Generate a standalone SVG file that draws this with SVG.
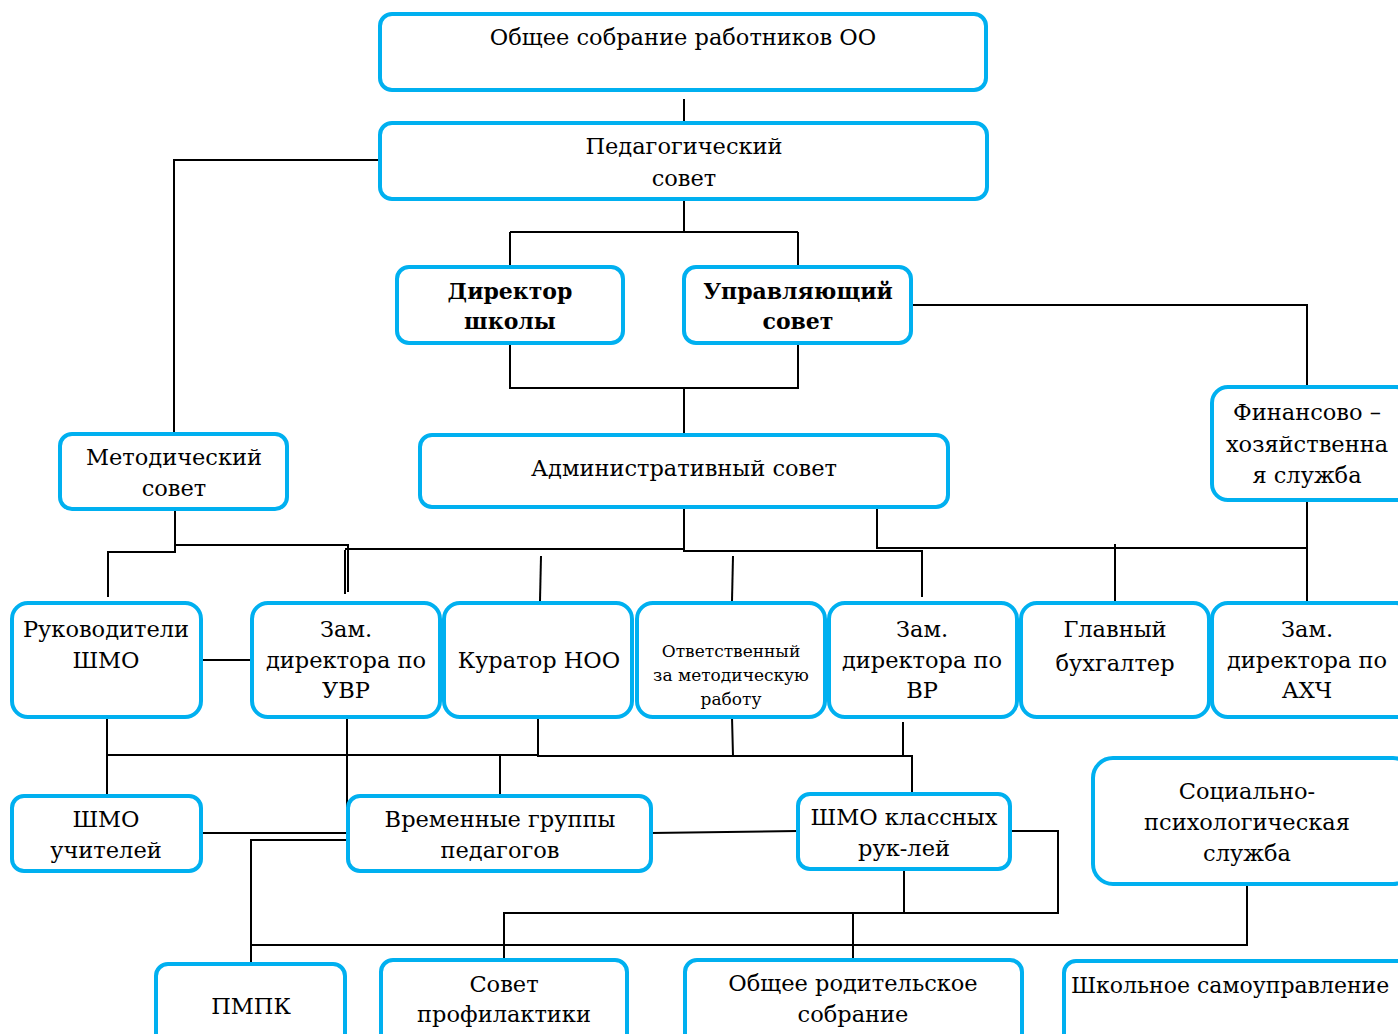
<svg xmlns="http://www.w3.org/2000/svg" width="1398" height="1034" viewBox="0 0 1398 1034">
<style>
.box{fill:#fff;stroke:#00B0F0;stroke-width:4}
.t{font-family:"DejaVu Serif","Liberation Serif",serif;font-size:22.5px;fill:#000;text-anchor:middle}
.b{font-weight:bold;font-size:22px}
.s{font-size:17px}
.c{fill:none;stroke:#000;stroke-width:2}
</style>
<rect width="1398" height="1034" fill="#fff"/>
<g id="connectors" class="c">
<path d="M684 99 L684 121"/>
<path d="M380 160 H174 V433"/>
<path d="M684 199 V232 M510 232 H798 M510 232 V267 M798 232 V267"/>
<path d="M911 305 H1307 V387"/>
<path d="M510 343 V388 H798 V343 M684 388 V435"/>
<path d="M175 509 V552 H108 V597"/>
<path d="M175 545 H348 V592 M345 550 V594"/>
<path d="M345 549 H684 M684 504 V551 H922 V597"/>
<path d="M877 503 V548 H1307"/>
<path d="M1307 500 V601"/>
<path d="M1115 544 V603"/>
<path d="M541 556 L540 601"/>
<path d="M733 556 L732 601"/>
<path d="M201 660 H252"/>
<path d="M107 717 V796"/>
<path d="M107 755 H538 M538 717 V756 H912 V794 M903 722 V757 M732 717 L733 756"/>
<path d="M500 756 V796"/>
<path d="M347 717 V840 H251 V964"/>
<path d="M201 833 H348"/>
<path d="M651 833 L798 831"/>
<path d="M1010 831 H1058 V913 H504 V960 M904 869 V913"/>
<path d="M853 913 V960"/>
<path d="M251 945 H1247 V884"/>
</g>
<g id="n1"><rect class="box" x="380" y="14" width="606" height="76" rx="12"/><text class="t" x="683" y="45">Общее собрание работников ОО</text></g>
<g id="n2"><rect class="box" x="380" y="123" width="607" height="76" rx="12"/><text class="t" x="684" y="154">Педагогический</text><text class="t" x="684" y="186">совет</text></g>
<g id="n3"><rect class="box" x="397" y="267" width="226" height="76" rx="12"/><text class="t b" x="510" y="299">Директор</text><text class="t b" x="510" y="329">школы</text></g>
<g id="n4"><rect class="box" x="684" y="267" width="227" height="76" rx="12"/><text class="t b" x="798" y="299">Управляющий</text><text class="t b" x="798" y="329">совет</text></g>
<g id="n5"><rect class="box" x="60" y="434" width="227" height="75" rx="12"/><text class="t" x="174" y="465">Методический</text><text class="t" x="174" y="496">совет</text></g>
<g id="n6"><rect class="box" x="420" y="435" width="528" height="72" rx="12"/><text class="t" x="684" y="476">Административный совет</text></g>
<g id="n7"><rect class="box" x="1212" y="387" width="200" height="113" rx="16"/><text class="t" x="1307" y="420">Финансово –</text><text class="t" x="1307" y="452">хозяйственна</text><text class="t" x="1307" y="483">я служба</text></g>
<g id="n8"><rect class="box" x="12" y="603" width="189" height="114" rx="16"/><text class="t" x="106" y="637">Руководители</text><text class="t" x="106" y="668">ШМО</text></g>
<g id="n9"><rect class="box" x="252" y="603" width="188" height="114" rx="16"/><text class="t" x="346" y="637">Зам.</text><text class="t" x="346" y="668">директора по</text><text class="t" x="346" y="698">УВР</text></g>
<g id="n10"><rect class="box" x="444" y="603" width="188" height="114" rx="16"/><text class="t" x="539" y="668">Куратор НОО</text></g>
<g id="n11"><rect class="box" x="637" y="603" width="188" height="114" rx="16"/><text class="t s" x="731" y="657">Ответственный</text><text class="t s" x="731" y="681">за методическую</text><text class="t s" x="731" y="705">работу</text></g>
<g id="n12"><rect class="box" x="829" y="603" width="188" height="114" rx="16"/><text class="t" x="922" y="637">Зам.</text><text class="t" x="922" y="668">директора по</text><text class="t" x="922" y="698">ВР</text></g>
<g id="n13"><rect class="box" x="1021" y="603" width="188" height="114" rx="16"/><text class="t" x="1115" y="637">Главный</text><text class="t" x="1115" y="671">бухгалтер</text></g>
<g id="n14"><rect class="box" x="1212" y="603" width="200" height="114" rx="16"/><text class="t" x="1307" y="637">Зам.</text><text class="t" x="1307" y="668">директора по</text><text class="t" x="1307" y="698">АХЧ</text></g>
<g id="n15"><rect class="box" x="12" y="796" width="189" height="75" rx="12"/><text class="t" x="106" y="827">ШМО</text><text class="t" x="106" y="858">учителей</text></g>
<g id="n16"><rect class="box" x="348" y="796" width="303" height="75" rx="12"/><text class="t" x="500" y="827">Временные группы</text><text class="t" x="500" y="858">педагогов</text></g>
<g id="n17"><rect class="box" x="798" y="794" width="212" height="75" rx="12"/><text class="t" x="904" y="825">ШМО классных</text><text class="t" x="904" y="856">рук-лей</text></g>
<g id="n18"><rect class="box" x="1093" y="758" width="320" height="126" rx="20"/><text class="t" x="1247" y="799">Социально-</text><text class="t" x="1247" y="830">психологическая</text><text class="t" x="1247" y="861">служба</text></g>
<g id="n19"><rect class="box" x="156" y="964" width="189" height="90" rx="12"/><text class="t" x="251" y="1014">ПМПК</text></g>
<g id="n20"><rect class="box" x="381" y="960" width="246" height="90" rx="12"/><text class="t" x="504" y="992">Совет</text><text class="t" x="504" y="1022">профилактики</text></g>
<g id="n21"><rect class="box" x="685" y="960" width="337" height="90" rx="12"/><text class="t" x="853" y="991">Общее родительское</text><text class="t" x="853" y="1022">собрание</text></g>
<g id="n22"><rect class="box" x="1064" y="961" width="350" height="90" rx="12"/><text class="t" x="1071" y="993" style="text-anchor:start;font-size:22px">Школьное самоуправление</text></g>
</svg>
